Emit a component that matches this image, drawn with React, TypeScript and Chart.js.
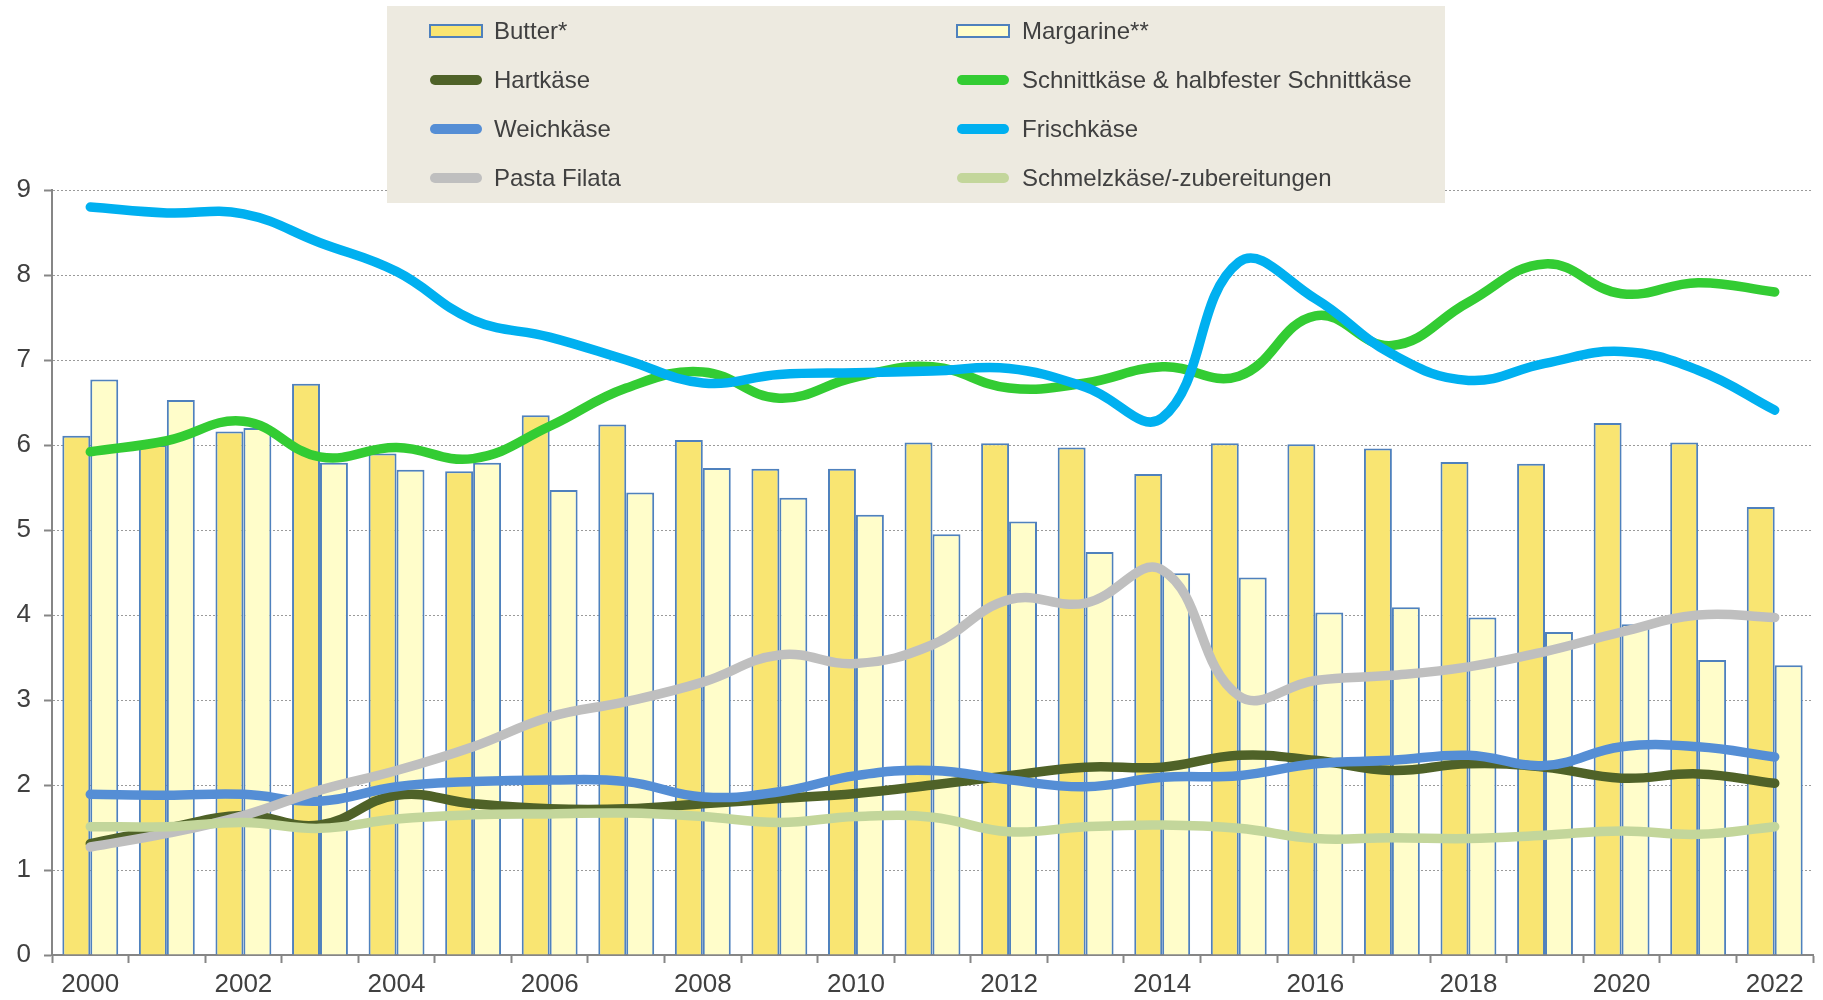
import React, { useEffect, useRef } from 'react';
import { Chart, registerables } from 'chart.js';

Chart.register(...registerables);

const years = ['2000','2001','2002','2003','2004','2005','2006','2007','2008','2009','2010','2011','2012','2013','2014','2015','2016','2017','2018','2019','2020','2021','2022'];

const butter = [6.11, 6.0, 6.16, 6.72, 5.9, 5.69, 6.35, 6.24, 6.06, 5.72, 5.72, 6.03, 6.02, 5.97, 5.66, 6.02, 6.01, 5.96, 5.80, 5.78, 6.26, 6.03, 5.27];
const margarine = [6.77, 6.53, 6.20, 5.79, 5.71, 5.79, 5.47, 5.44, 5.73, 5.38, 5.18, 4.95, 5.10, 4.74, 4.49, 4.44, 4.03, 4.09, 3.97, 3.80, 3.89, 3.47, 3.41];
const hartkaese = [1.31, 1.49, 1.64, 1.53, 1.88, 1.78, 1.72, 1.72, 1.78, 1.84, 1.90, 2.00, 2.11, 2.21, 2.21, 2.35, 2.29, 2.17, 2.25, 2.21, 2.08, 2.13, 2.02];
const schnittkaese = [5.92, 6.05, 6.28, 5.86, 5.97, 5.84, 6.22, 6.67, 6.86, 6.55, 6.80, 6.92, 6.67, 6.73, 6.92, 6.81, 7.52, 7.17, 7.68, 8.13, 7.78, 7.91, 7.80];
const weichkaese = [1.89, 1.88, 1.89, 1.81, 1.98, 2.04, 2.06, 2.04, 1.86, 1.92, 2.11, 2.17, 2.06, 1.98, 2.09, 2.11, 2.25, 2.29, 2.35, 2.23, 2.45, 2.45, 2.33];
const frischkaese = [8.80, 8.73, 8.72, 8.38, 8.04, 7.47, 7.27, 7.00, 6.73, 6.83, 6.85, 6.87, 6.90, 6.68, 6.32, 8.15, 7.72, 7.07, 6.76, 6.96, 7.10, 6.88, 6.41];
const pastaFilata = [1.27, 1.43, 1.64, 1.94, 2.17, 2.45, 2.80, 2.98, 3.21, 3.53, 3.43, 3.65, 4.18, 4.14, 4.53, 3.05, 3.23, 3.29, 3.39, 3.57, 3.80, 4.00, 3.97];
const schmelzkaese = [1.51, 1.51, 1.56, 1.49, 1.60, 1.65, 1.66, 1.67, 1.63, 1.56, 1.63, 1.62, 1.45, 1.51, 1.53, 1.49, 1.37, 1.38, 1.37, 1.41, 1.46, 1.42, 1.51];

const yTicks = [0, 1, 2, 3, 4, 5, 6, 7, 8, 9];

const FONT = "'Liberation Sans', Arial, sans-serif";
const TEXT = '#404040';
const AXIS = '#868686';
const BAR_BORDER = '#4F81BD';

const legendItems = [
  { label: 'Butter*', type: 'bar', color: '#F9E572', col: 0, row: 0 },
  { label: 'Margarine**', type: 'bar', color: '#FFFDCA', col: 1, row: 0 },
  { label: 'Hartkäse', type: 'line', color: '#4F6228', col: 0, row: 1 },
  { label: 'Schnittkäse & halbfester Schnittkäse', type: 'line', color: '#33CC33', col: 1, row: 1 },
  { label: 'Weichkäse', type: 'line', color: '#558ED5', col: 0, row: 2 },
  { label: 'Frischkäse', type: 'line', color: '#00B0F0', col: 1, row: 2 },
  { label: 'Pasta Filata', type: 'line', color: '#BFBFBF', col: 0, row: 3 },
  { label: 'Schmelzkäse/-zubereitungen', type: 'line', color: '#C3D69B', col: 1, row: 3 },
];

const legendPlugin = {
  id: 'boxLegend',
  afterDraw(chart: any) {
    const ctx = chart.ctx;
    ctx.save();
    ctx.fillStyle = '#EDEAE0';
    ctx.fillRect(387, 6, 1058, 197);
    const rowsY = [31, 80, 129, 178];
    const swX = [430, 957];
    const txX = [494, 1022];
    ctx.font = `24px ${FONT}`;
    ctx.textBaseline = 'middle';
    ctx.textAlign = 'left';
    legendItems.forEach((it) => {
      const y = rowsY[it.row];
      const x = swX[it.col];
      if (it.type === 'bar') {
        ctx.fillStyle = it.color;
        ctx.fillRect(x, y - 6, 52, 12);
        ctx.strokeStyle = BAR_BORDER;
        ctx.lineWidth = 2;
        ctx.strokeRect(x, y - 6, 52, 12);
      } else {
        ctx.strokeStyle = it.color;
        ctx.lineWidth = 10;
        ctx.lineCap = 'round';
        ctx.beginPath();
        ctx.moveTo(x + 5, y);
        ctx.lineTo(x + 47, y);
        ctx.stroke();
      }
      ctx.fillStyle = TEXT;
      ctx.fillText(it.label, txX[it.col], y + 1);
    });
    ctx.restore();
  },
};

function lineDs(label: string, data: number[], color: string, order: number) {
  return {
    type: 'line' as const,
    label,
    data,
    borderColor: color,
    backgroundColor: color,
    borderWidth: 9.5,
    pointRadius: 0,
    pointHoverRadius: 0,
    tension: 0.42,
    borderCapStyle: 'round' as const,
    borderJoinStyle: 'round' as const,
    fill: false,
    order,
  };
}

export default function App() {
  const canvasRef = useRef<HTMLCanvasElement | null>(null);

  useEffect(() => {
    if (!canvasRef.current) return;
    const chart = new Chart(canvasRef.current, {
      type: 'bar',
      data: {
        labels: years,
        datasets: [
          {
            type: 'bar',
            label: 'Butter*',
            data: butter,
            backgroundColor: '#F9E572',
            borderColor: BAR_BORDER,
            borderWidth: 2,
            barPercentage: 1,
            categoryPercentage: 0.73,
            order: 20,
          } as any,
          {
            type: 'bar',
            label: 'Margarine**',
            data: margarine,
            backgroundColor: '#FFFDCA',
            borderColor: BAR_BORDER,
            borderWidth: 2,
            barPercentage: 1,
            categoryPercentage: 0.73,
            order: 20,
          } as any,
          lineDs('Hartkäse', hartkaese, '#4F6228', 6),
          lineDs('Schnittkäse & halbfester Schnittkäse', schnittkaese, '#33CC33', 5),
          lineDs('Weichkäse', weichkaese, '#558ED5', 4),
          lineDs('Frischkäse', frischkaese, '#00B0F0', 3),
          lineDs('Pasta Filata', pastaFilata, '#BFBFBF', 2),
          lineDs('Schmelzkäse/-zubereitungen', schmelzkaese, '#C3D69B', 1),
        ] as any,
      },
      options: {
        animation: false,
        responsive: true,
        maintainAspectRatio: false,
        layout: { padding: { top: 190, right: 10, left: 0, bottom: 0 } },
        plugins: {
          legend: { display: false },
          tooltip: { enabled: false },
        },
        scales: {
          x: {
            type: 'category',
            offset: true,
            grid: {
              offset: true,
              drawOnChartArea: false,
              drawTicks: true,
              tickLength: 8,
              tickColor: AXIS,
              tickWidth: 2,
              color: AXIS,
            },
            border: { display: true, color: AXIS, width: 2 },
            ticks: {
              autoSkip: false,
              maxRotation: 0,
              minRotation: 0,
              color: TEXT,
              padding: 6,
              font: { size: 26, family: FONT },
              callback: (_v: any, i: number) => (i % 2 === 0 ? years[i] : ''),
            },
            afterFit: (scale: any) => {
              scale.height = 45;
            },
          },
          y: {
            min: yTicks[0],
            max: yTicks[yTicks.length - 1],
            afterBuildTicks: (scale: any) => {
              scale.ticks = yTicks.map((v) => ({ value: v }));
            },
            grid: {
              color: '#9A9A9A',
              lineWidth: 1,
              drawTicks: true,
              tickLength: 8,
              tickColor: AXIS,
              tickWidth: 2,
              tickBorderDash: [],
            },
            border: { display: true, color: AXIS, width: 2, dash: [2, 2] },
            ticks: {
              color: TEXT,
              padding: 13,
              font: { size: 26, family: FONT },
            },
            afterFit: (scale: any) => {
              scale.width = 52;
            },
          },
        },
      } as any,
      plugins: [legendPlugin],
    });
    return () => chart.destroy();
  }, []);

  return (
    <div style={{ position: 'absolute', left: 0, top: 0, width: 1823, height: 1000, background: '#ffffff' }}>
      <canvas ref={canvasRef} />
    </div>
  );
}
